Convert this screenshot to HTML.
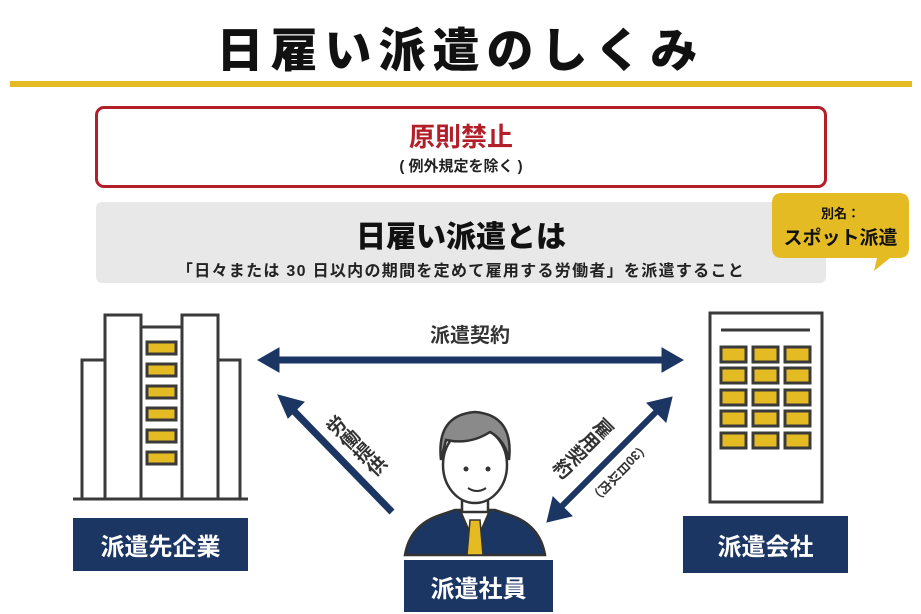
<!DOCTYPE html>
<html><head><meta charset="utf-8"><style>
body{margin:0;width:921px;height:614px;background:#fff;overflow:hidden;position:relative;font-family:"Liberation Sans","Noto Sans CJK JP",sans-serif;}
.a{position:absolute;}
.lbl{position:absolute;background:#1c3664;color:#fff;font-weight:bold;font-size:24px;display:flex;align-items:center;justify-content:center;}
.v{position:absolute;writing-mode:vertical-rl;font-weight:bold;color:#333;white-space:nowrap;line-height:1;}
</style></head><body>
<div class="a" style="left:0;top:12px;width:921px;text-align:center;font-size:47px;font-weight:900;color:#111;letter-spacing:7px">日雇い派遣のしくみ</div>
<div class="a" style="left:10px;top:81px;width:902px;height:6px;background:#e5bb24"></div>
<div class="a" style="left:95px;top:106px;width:726px;height:76px;border:3px solid #b31f29;border-radius:9px;text-align:center">
<div style="color:#b31f29;font-weight:bold;font-size:26px;margin-top:8px">原則禁止</div>
<div style="font-size:15px;font-weight:bold;color:#222;margin-top:1px">( 例外規定を除く )</div></div>
<div class="a" style="left:96px;top:202px;width:730px;height:81px;background:#e8e8e8;border-radius:6px;text-align:center">
<div style="font-weight:900;font-size:30px;color:#111;margin-top:10px">日雇い派遣とは</div>
<div style="font-size:16px;font-weight:bold;color:#222;margin-top:1px;letter-spacing:1.3px">「日々または 30 日以内の期間を定めて雇用する労働者」を派遣すること</div></div>
<svg class="a" style="left:0;top:0" width="921" height="614">
<path d="M782 193 H899 Q909 193 909 203 V248 Q909 258 899 258 H890 L874 271 L877 258 H782 Q772 258 772 248 V203 Q772 193 782 193Z" fill="#e5bb24"/>
<g stroke="#3a3a3a" stroke-width="3" fill="#fff">
<rect x="82" y="360" width="23" height="139"/>
<rect x="218" y="360" width="22" height="139"/>
<rect x="105" y="315" width="36" height="184"/>
<rect x="182" y="315" width="36" height="184"/>
<line x1="141" y1="327" x2="182" y2="327"/>
<line x1="73" y1="499" x2="248" y2="499"/>
</g>
<g fill="#e5bb24" stroke="#3a3a3a" stroke-width="3">
<rect x="147" y="342" width="29" height="12"/><rect x="147" y="364" width="29" height="12"/><rect x="147" y="386" width="29" height="12"/><rect x="147" y="408" width="29" height="12"/><rect x="147" y="430" width="29" height="12"/><rect x="147" y="452" width="29" height="12"/>
</g>
<rect x="710" y="313" width="112" height="189" fill="#fff" stroke="#3a3a3a" stroke-width="3"/>
<line x1="721" y1="330" x2="810" y2="330" stroke="#3a3a3a" stroke-width="3"/>
<g fill="#e5bb24" stroke="#3a3a3a" stroke-width="3">
<rect x="721" y="347" width="25" height="15"/><rect x="753" y="347" width="25" height="15"/><rect x="785" y="347" width="25" height="15"/>
<rect x="721" y="368" width="25" height="15"/><rect x="753" y="368" width="25" height="15"/><rect x="785" y="368" width="25" height="15"/>
<rect x="721" y="390" width="25" height="15"/><rect x="753" y="390" width="25" height="15"/><rect x="785" y="390" width="25" height="15"/>
<rect x="721" y="411" width="25" height="15"/><rect x="753" y="411" width="25" height="15"/><rect x="785" y="411" width="25" height="15"/>
<rect x="721" y="433" width="25" height="15"/><rect x="753" y="433" width="25" height="15"/><rect x="785" y="433" width="25" height="15"/>
</g>
<g fill="#1c3664" stroke="#1c3664">
<line x1="275" y1="360" x2="665" y2="360" stroke-width="7"/>
<path d="M258 360 L279 348 L279 372Z"/><path d="M683 360 L662 348 L662 372Z"/>
<line x1="392" y1="512" x2="290" y2="407" stroke-width="7"/>
<path d="M278 395 L304 402 L288 418Z"/>
<line x1="558" y1="510" x2="660" y2="408" stroke-width="6"/>
<path d="M547 522 L553 497 L572 516Z"/><path d="M672 397 L666 422 L647 403Z"/>
</g>
<path d="M405 555 Q410 525 440 515 L455 510 H495 L510 515 Q540 525 545 555Z" fill="#1c3664" stroke="#333" stroke-width="2.5"/>
<path d="M460 510 L475 545 L490 510Z" fill="#fff" stroke="#333" stroke-width="2"/>
<path d="M470 520 L480 520 L483 555 L467 555Z" fill="#e5bb24" stroke="#333" stroke-width="1.5"/>
<rect x="462" y="490" width="26" height="22" fill="#fff" stroke="#333" stroke-width="2.5"/>
<ellipse cx="475" cy="465" rx="32" ry="38" fill="#fff" stroke="#333" stroke-width="2.5"/>
<path d="M441 460 Q436 415 475 412 Q514 415 509 460 Q505 440 490 432 Q470 445 446 440Z" fill="#8a8a8a" stroke="#333" stroke-width="2.5"/>
<circle cx="466" cy="469" r="2.5" fill="#333"/><circle cx="488" cy="469" r="2.5" fill="#333"/>
<path d="M468 488 Q477 494 486 488" stroke="#333" stroke-width="2" fill="none"/>
<text x="470" y="342" font-size="20" text-anchor="middle" font-weight="bold" fill="#333" font-family="Liberation Sans,Noto Sans CJK JP,sans-serif">派遣契約</text>
</svg>
<div class="v" style="left:355px;top:447px;font-size:19px;transform:translate(-50%,-50%) rotate(-45deg)">労働提供</div>
<div class="v" style="left:582px;top:447px;font-size:19px;transform:translate(-50%,-50%) rotate(45deg)">雇用契約</div>
<div class="v" style="left:619px;top:472px;font-size:13px;transform:translate(-50%,-50%) rotate(45deg)">（30日以内）</div>
<div class="a" style="left:772px;top:203px;width:137px;text-align:center;font-weight:bold;color:#111"><div style="font-size:13px">別名：</div><div style="font-size:19px;margin-top:1px">スポット派遣</div></div>
<div class="lbl" style="left:73px;top:518px;width:175px;height:53px">派遣先企業</div>
<div class="lbl" style="left:404px;top:560px;width:149px;height:52px">派遣社員</div>
<div class="lbl" style="left:683px;top:516px;width:165px;height:57px">派遣会社</div>
</body></html>
